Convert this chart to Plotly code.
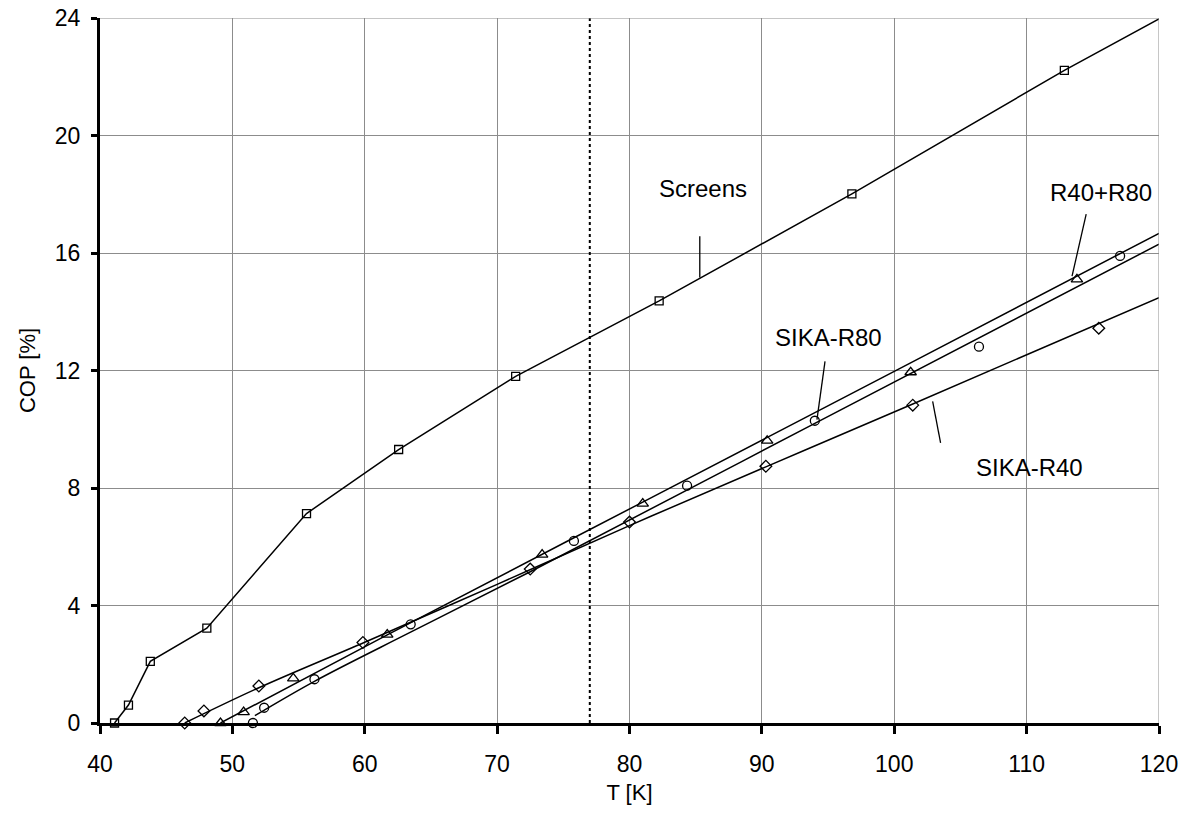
import plotly.graph_objects as go

# Measured data points (T in K, COP in %)
screens_T = [41.1, 42.15, 43.8, 48.07, 55.6, 62.56, 71.4, 82.24, 96.8, 112.85]
screens_cop = [0.0, 0.61, 2.1, 3.23, 7.13, 9.31, 11.8, 14.37, 18.01, 22.22]

r40_T = [46.4, 47.85, 52.0, 59.86, 72.5, 80.0, 90.3, 101.4, 115.45]
r40_cop = [0.0, 0.41, 1.26, 2.74, 5.24, 6.84, 8.74, 10.82, 13.44]

r40r80_T = [49.1, 50.85, 54.6, 61.7, 73.4, 81.0, 90.4, 101.24, 113.8]
r40r80_cop = [0.0, 0.37, 1.52, 3.01, 5.73, 7.47, 9.61, 11.94, 15.1]

r80_T = [51.55, 52.4, 56.2, 63.47, 75.8, 84.35, 94.0, 106.4, 117.06]
r80_cop = [0.0, 0.52, 1.49, 3.36, 6.2, 8.08, 10.29, 12.81, 15.9]

# Fitted curves
screens_fit_T = [41.1, 42.15, 43.8, 48.07, 55.6, 62.56, 71.4, 82.24, 96.8, 112.85, 120.0]
screens_fit_cop = [0.0, 0.61, 2.1, 3.23, 7.13, 9.31, 11.8, 14.37, 18.01, 22.22, 23.97]

r40_fit_T = [46.4, 52.0, 60.0, 70.0, 80.0, 90.3, 101.4, 120.0]
r40_fit_cop = [0.0, 1.2, 2.75, 4.72, 6.72, 8.72, 10.86, 14.48]

r40r80_fit_T = [49.1, 61.7, 81.0, 101.2, 120.0]
r40r80_fit_cop = [0.0, 3.0, 7.52, 12.25, 16.67]

r80_fit_T = [51.7, 56.2, 63.5, 72.5, 94.0, 120.0]
r80_fit_cop = [0.25, 1.42, 3.1, 5.15, 10.2, 16.3]

x_ticks = [40, 50, 60, 70, 80, 90, 100, 110, 120]
y_ticks = [0, 4, 8, 12, 16, 20, 24]
t_ln2 = 77.0

FONT = "Liberation Sans"

fig = go.Figure()

line_style = dict(color="black", width=1.5)
fig.add_trace(go.Scatter(x=screens_fit_T, y=screens_fit_cop, mode="lines", line=line_style,
                         hoverinfo="skip", showlegend=False))
for fx, fy in [(r40_fit_T, r40_fit_cop), (r40r80_fit_T, r40r80_fit_cop),
               (r80_fit_T, r80_fit_cop)]:
    fig.add_trace(go.Scatter(x=fx, y=fy, mode="lines", line=line_style,
                             line_shape="spline", hoverinfo="skip", showlegend=False))

marker_sets = [
    ("Screens", screens_T, screens_cop, "square-open", 8),
    ("SIKA-R40", r40_T, r40_cop, "diamond-open", 9),
    ("R40+R80", r40r80_T, r40r80_cop, "triangle-up-open", 10),
    ("SIKA-R80", r80_T, r80_cop, "circle-open", 9),
]
for name, xs, ys, sym, sz in marker_sets:
    fig.add_trace(go.Scatter(x=xs, y=ys, mode="markers", name=name,
                             marker=dict(symbol=sym, size=sz, color="black",
                                         line=dict(color="black", width=1.3)),
                             showlegend=False, cliponaxis=False))

# Dotted reference line at 77 K
fig.add_shape(type="line", x0=t_ln2, x1=t_ln2, y0=0, y1=24, xref="x", yref="y",
              line=dict(color="black", width=2, dash="dot"))

# Series labels with leader lines
labels = [
    ("Screens", 85.55, 18.2, (85.31, 16.57), (85.31, 15.17)),
    ("R40+R80", 115.6, 18.07, (114.5, 17.32), (113.43, 15.21)),
    ("SIKA-R80", 95.0, 13.13, (94.77, 12.31), (94.16, 10.33)),
    ("SIKA-R40", 110.2, 8.7, (102.9, 10.95), (103.5, 9.54)),
]
for text, tx, ty, p0, p1 in labels:
    fig.add_annotation(x=tx, y=ty, text=text, showarrow=False,
                       font=dict(family=FONT, size=24, color="black"))
    fig.add_shape(type="line", x0=p0[0], y0=p0[1], x1=p1[0], y1=p1[1],
                  xref="x", yref="y", line=dict(color="black", width=1.3))

fig.update_xaxes(range=[40, 120], tickvals=x_ticks, showgrid=True, gridcolor="#8c8c8c",
                 gridwidth=1, showline=True, linecolor="black", linewidth=3,
                 ticks="outside", ticklen=8, tickwidth=3, tickcolor="black",
                 ticklabelstandoff=10, zeroline=False, automargin=False,
                 tickfont=dict(family=FONT, size=23, color="black"),
                 title=dict(text="T [K]", font=dict(family=FONT, size=22, color="black"),
                            standoff=10))
fig.update_yaxes(range=[0, 24], tickvals=y_ticks, showgrid=True, gridcolor="#8c8c8c",
                 gridwidth=1, showline=True, linecolor="black", linewidth=3,
                 ticks="outside", ticklen=6, tickwidth=3, tickcolor="black",
                 ticklabelstandoff=6, zeroline=False, automargin=False,
                 tickfont=dict(family=FONT, size=23, color="black"),
                 title=dict(text="COP [%]", font=dict(family=FONT, size=22, color="black"),
                            standoff=14))

# Right and top frame lines drawn as light grid edges
fig.add_shape(type="line", x0=120, x1=120, y0=0, y1=24, xref="x", yref="y",
              line=dict(color="#8c8c8c", width=1))
fig.add_shape(type="line", x0=40, x1=120, y0=24, y1=24, xref="x", yref="y",
              line=dict(color="#8c8c8c", width=1))

fig.update_layout(width=1196, height=829, plot_bgcolor="white", paper_bgcolor="white",
                  margin=dict(l=100, r=37, t=18, b=106))

fig.write_html("out.html")
